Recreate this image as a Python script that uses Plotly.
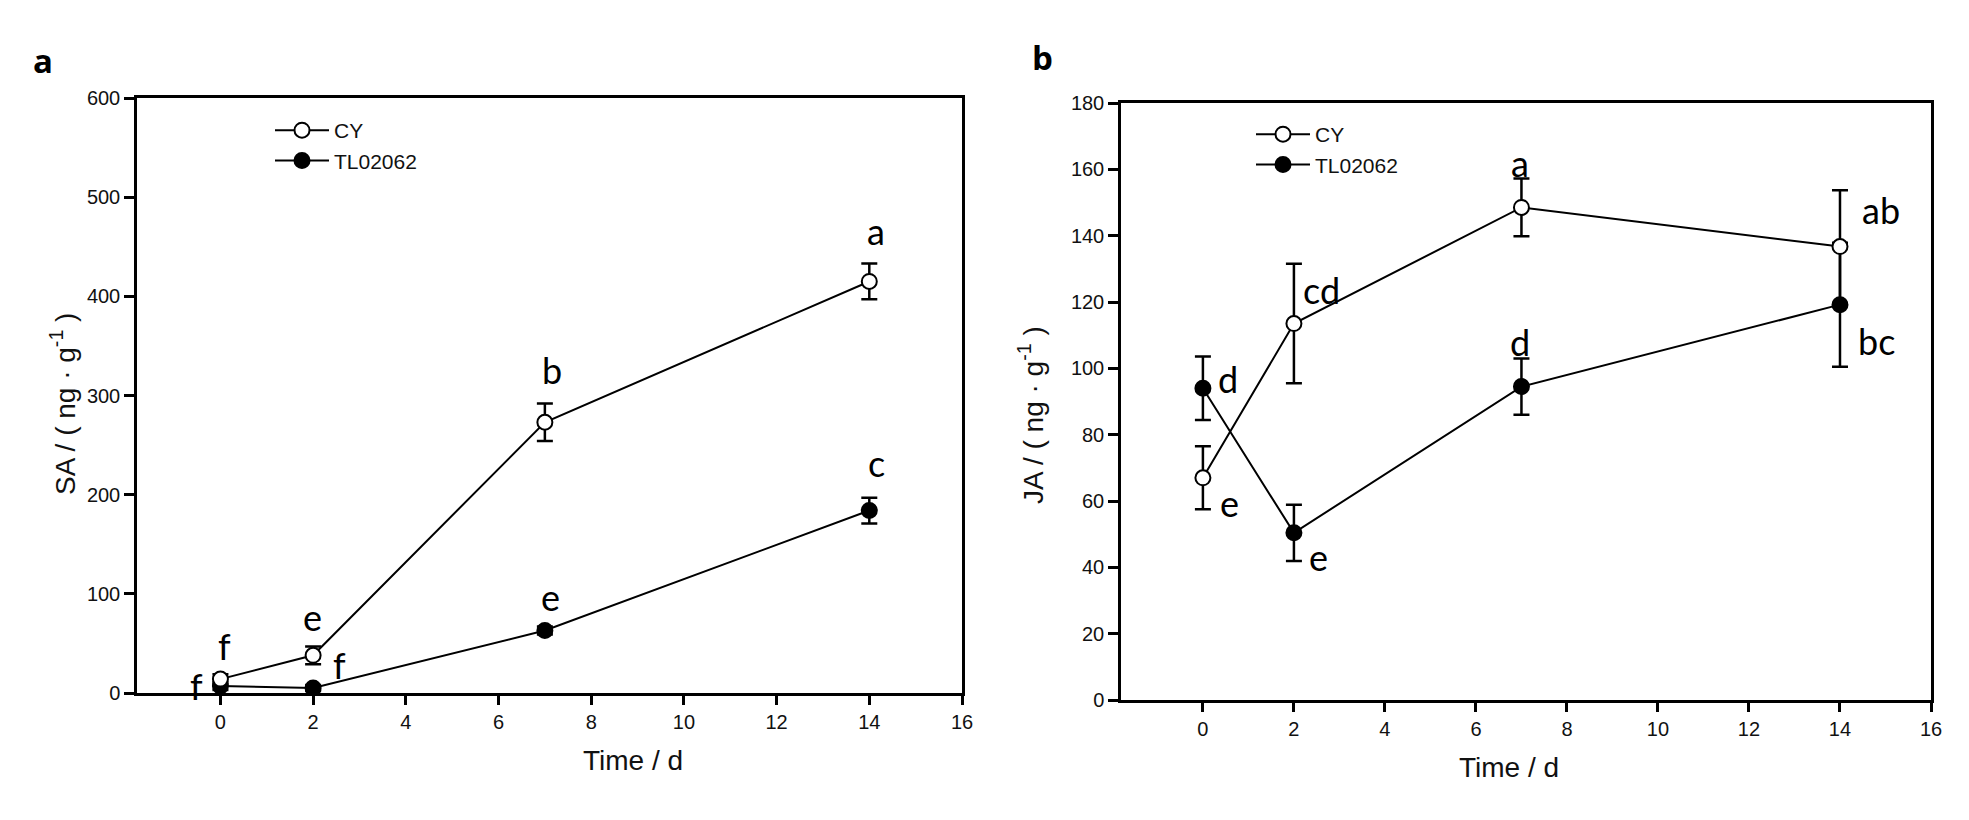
import plotly.graph_objects as go

# ---------------- data ----------------
time_d = [0, 2, 7, 14]

sa_cy = [14, 38, 273, 415]
sa_cy_err = [5, 9, 19, 18]
sa_tl = [7, 5, 63, 184]
sa_tl_err = [4, 3, 4, 13]

ja_cy = [67, 113.5, 148.5, 136.7]
ja_cy_err = [9.5, 18, 8.7, 17]
ja_tl = [94, 50.4, 94.5, 119.2]
ja_tl_err = [9.6, 8.5, 8.5, 18.7]

sa_cy_letters = ["f", "e", "b", "a"]
sa_tl_letters = ["f", "f", "e", "c"]
ja_cy_letters = ["e", "cd", "a", "ab"]
ja_tl_letters = ["d", "e", "d", "bc"]

x_ticks = [0, 2, 4, 6, 8, 10, 12, 14, 16]
sa_ticks = [0, 100, 200, 300, 400, 500, 600]
ja_ticks = [0, 20, 40, 60, 80, 100, 120, 140, 160, 180]

# ---------------- style ----------------
W, H = 1969, 820
TICK_FONT = dict(family="Liberation Sans, Arial", size=20, color="#111111")
TITLE_FONT = dict(family="Liberation Sans, Arial", size=28, color="#111111")
LETTER_FONT = dict(family="Lato, Open Sans", size=36, color="#000000")

# label offsets (pixels) relative to the point
sa_cy_off = [(4, 33), (-1, 38), (7, 52), (7, 50)]
sa_tl_off = [(-24, 0), (26, 23), (6, 34), (7, 48)]
ja_cy_off = [(27, -25), (28, 34), (-1, 44), (41, 37)]
ja_tl_off = [(25, 9), (25, -24), (-1, 45), (37, -36)]


def px(v):
    return v / W


def py(v):
    return 1 - v / H


fig = go.Figure()


def add_series(xa, ya, y, err, filled, name, legend, show):
    fig.add_trace(go.Scatter(
        x=time_d, y=y, mode="lines+markers", name=name,
        xaxis=xa, yaxis=ya, legend=legend, showlegend=show,
        legendrank=2 if filled else 1,
        line=dict(color="black", width=2),
        marker=dict(symbol="circle", size=15,
                    color="black" if filled else "white",
                    line=dict(color="black", width=2)),
        error_y=dict(type="data", array=err, visible=True,
                     color="black", thickness=2.5, width=8),
    ))


add_series("x", "y", sa_tl, sa_tl_err, True, "TL02062", "legend", True)
add_series("x", "y", sa_cy, sa_cy_err, False, "CY", "legend", True)
add_series("x2", "y2", ja_tl, ja_tl_err, True, "TL02062", "legend2", True)
add_series("x2", "y2", ja_cy, ja_cy_err, False, "CY", "legend2", True)

annotations = []


def add_letters(xref, yref, ys, letters, offs):
    for xv, yv, t, (dx, dy) in zip(time_d, ys, letters, offs):
        annotations.append(dict(
            x=xv, y=yv, xref=xref, yref=yref, text=t, showarrow=False,
            xshift=dx, yshift=dy, font=LETTER_FONT,
            xanchor="center", yanchor="middle"))


add_letters("x", "y", sa_cy, sa_cy_letters, sa_cy_off)
add_letters("x", "y", sa_tl, sa_tl_letters, sa_tl_off)
add_letters("x2", "y2", ja_cy, ja_cy_letters, ja_cy_off)
add_letters("x2", "y2", ja_tl, ja_tl_letters, ja_tl_off)

# panel letters and axis titles
annotations += [
    dict(x=px(31), y=py(36), xref="paper", yref="paper", text="<b>a</b>",
         showarrow=False, font=dict(family="Open Sans", size=33, color="black")),
    dict(x=px(1042), y=py(33), xref="paper", yref="paper", text="<b>b</b>",
         showarrow=False, font=dict(family="Open Sans", size=33, color="black")),
    dict(x=px(581), y=py(778), xref="paper", yref="paper", text="Time / d",
         showarrow=False, font=TITLE_FONT),
    dict(x=px(1561), y=py(785), xref="paper", yref="paper", text="Time / d",
         showarrow=False, font=TITLE_FONT),
    dict(x=px(43), y=py(404), xref="paper", yref="paper",
         text="SA / ( ng · g<sup>-1</sup> )", textangle=-90,
         showarrow=False, font=TITLE_FONT),
    dict(x=px(1031), y=py(415), xref="paper", yref="paper",
         text="JA / ( ng · g<sup>-1</sup> )", textangle=-90,
         showarrow=False, font=TITLE_FONT),
]

xaxis_common = dict(
    range=[-1.8, 16], tickvals=x_ticks, ticks="outside", ticklen=9,
    tickwidth=2.5, tickcolor="black", showline=True, linecolor="black",
    linewidth=2.5, mirror=True, showgrid=False, zeroline=False,
    tickfont=TICK_FONT,
)
yaxis_common = dict(
    ticks="outside", ticklen=10, tickwidth=2.5, tickcolor="black",
    showline=True, linecolor="black", linewidth=2.5, mirror=True,
    showgrid=False, zeroline=False, tickfont=TICK_FONT,
)

LEG_FONT = dict(family="Liberation Sans, Arial", size=21, color="#111")

fig.update_layout(
    width=W, height=H,
    margin=dict(l=0, r=0, t=0, b=0, autoexpand=False),
    paper_bgcolor="white", plot_bgcolor="white",
    xaxis=dict(domain=[px(137), px(962)], anchor="y", **xaxis_common),
    yaxis=dict(domain=[py(693), py(98)], anchor="x", range=[0, 600],
               tickvals=sa_ticks, **yaxis_common),
    xaxis2=dict(domain=[px(1121), px(1931)], anchor="y2", **xaxis_common),
    yaxis2=dict(domain=[py(700), py(103)], anchor="x2", range=[0, 180],
                tickvals=ja_ticks, **yaxis_common),
    legend=dict(x=px(270), y=py(110), xanchor="left", yanchor="top",
                font=LEG_FONT, itemwidth=54, bgcolor="rgba(0,0,0,0)",
                tracegroupgap=0),
    legend2=dict(x=px(1251), y=py(114), xanchor="left", yanchor="top",
                 font=LEG_FONT, itemwidth=54, bgcolor="rgba(0,0,0,0)",
                 tracegroupgap=0),
    annotations=annotations,
)

fig.write_html("out.html")
